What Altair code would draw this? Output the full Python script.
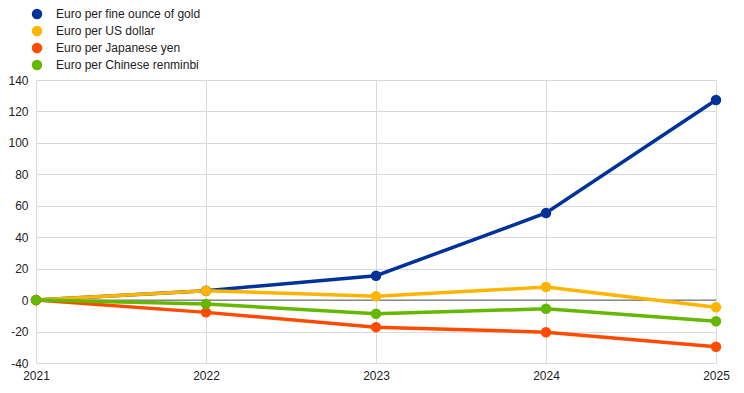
import altair as alt
import pandas as pd

years = [2021, 2022, 2023, 2024, 2025]
series_names = [
    "Euro per fine ounce of gold",
    "Euro per US dollar",
    "Euro per Japanese yen",
    "Euro per Chinese renminbi",
]
gold = [0, 6.0, 15.5, 55.4, 127.3]
usd = [0, 6.0, 2.4, 8.3, -4.5]
jpy = [0, -7.8, -17.2, -20.4, -29.7]
cny = [0, -2.4, -8.7, -5.5, -13.4]
colors = ["#003299", "#FFB400", "#FF4B00", "#65B800"]

rows = []
for order, (name, vals) in enumerate(zip(series_names, [gold, usd, jpy, cny])):
    for y, v in zip(years, vals):
        rows.append({"year": y, "value": v, "series": name, "order": order})
df = pd.DataFrame(rows)

FONT = "Liberation Sans"
yscale = alt.Scale(domain=[-40, 140], nice=False)

x = alt.X("year:Q", scale=alt.Scale(domain=[2021, 2025], nice=False),
          axis=alt.Axis(values=years, format="d", title=None, grid=True,
                        gridColor="#d9d9d9", domain=False, ticks=False,
                        labelPadding=7, labelFlush=False, labelOverlap=False))
y = alt.Y("value:Q", scale=yscale,
          axis=alt.Axis(values=list(range(-40, 141, 20)), title=None, grid=True,
                        gridColor="#d9d9d9", domain=False, ticks=False,
                        labelPadding=8, labelOverlap=False,
                        labelExpr="'' + datum.value"))
color = alt.Color("series:N", scale=alt.Scale(domain=series_names, range=colors),
                  legend=alt.Legend(title=None, orient="none", legendX=-5, legendY=-72,
                                    symbolType="circle", symbolSize=110,
                                    symbolStrokeWidth=0, labelFontSize=12,
                                    labelFont=FONT, labelColor="#222222",
                                    rowPadding=5, padding=0, labelOffset=13,
                                    labelLimit=300))

zero = alt.Chart(pd.DataFrame({"value": [0]})).mark_rule(color="#555555", strokeWidth=1).encode(
    y=y
)
lines = alt.Chart(df).mark_line(strokeWidth=3.5).encode(
    x=x, y=y, color=color, order=alt.Order("year:Q"), detail="order:N"
)
points = alt.Chart(df).mark_circle(size=110, opacity=1).encode(
    x=x, y=y, color=alt.Color("series:N", scale=alt.Scale(domain=series_names, range=colors), legend=None),
    order=alt.Order("order:Q")
)

chart = alt.layer(zero, lines, points).properties(
    width=680, height=283,
    autosize=alt.AutoSizeParams(type="none"),
    padding={"left": 28, "top": 72, "right": 20, "bottom": 22},
).configure_view(stroke=None).configure_axis(
    labelFont=FONT, labelFontSize=12, labelColor="#222222"
)

chart.save("out.html", embed_options={"renderer": "svg", "actions": False})
